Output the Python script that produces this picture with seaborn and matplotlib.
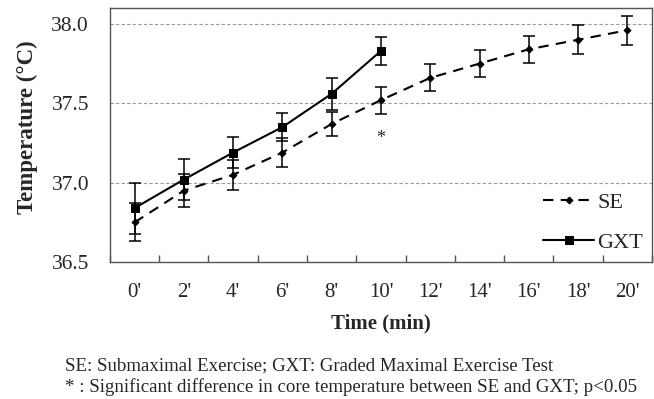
import matplotlib
matplotlib.use("Agg")
import matplotlib.pyplot as plt
import seaborn as sns
import pandas as pd
import numpy as np

time_labels = ["0'", "2'", "4'", "6'", "8'", "10'", "12'", "14'", "16'", "18'", "20'"]
se_mean = [36.75, 36.95, 37.05, 37.19, 37.37, 37.52, 37.66, 37.75, 37.84, 37.90, 37.96]
se_err = [0.12, 0.105, 0.095, 0.09, 0.075, 0.085, 0.085, 0.085, 0.085, 0.09, 0.09]
gxt_mean = [36.84, 37.02, 37.19, 37.35, 37.56, 37.83]
gxt_err = [0.16, 0.13, 0.095, 0.09, 0.10, 0.09]

sns.set_theme(style="white")
plt.rcParams['font.family'] = ['Liberation Serif', 'DejaVu Serif']

fig = plt.figure(figsize=(6.54, 3.99), dpi=100)
ax = fig.add_axes([0.168, 0.343, 0.829, 0.637])

se_df = pd.DataFrame({"x": np.arange(len(se_mean)), "y": se_mean})
gxt_df = pd.DataFrame({"x": np.arange(len(gxt_mean)), "y": gxt_mean})

ax.errorbar(se_df["x"], se_df["y"], yerr=se_err, fmt="none", ecolor="black",
            elinewidth=1.1, capsize=4, capthick=1.1, zorder=3)
ax.errorbar(gxt_df["x"], gxt_df["y"], yerr=gxt_err, fmt="none", ecolor="black",
            elinewidth=1.1, capsize=4, capthick=1.1, zorder=3)

sns.lineplot(data=se_df, x="x", y="y", ax=ax, color="black", linestyle=(0, (5, 3.5)),
             linewidth=1.5, marker="D", markersize=3.5, markeredgecolor="black", label="SE", zorder=4)
sns.lineplot(data=gxt_df, x="x", y="y", ax=ax, color="black", linestyle="-",
             linewidth=1.5, marker="s", markersize=6, markeredgecolor="black", label="GXT", zorder=4)

ax.text(5, 37.28, "*", ha="center", va="center", fontsize=13)

ax.set_xlim(-0.5, 10.5)
ax.set_ylim(36.5, 38.1)
ax.set_yticks([36.5, 37.0, 37.5, 38.0])
ax.set_yticklabels(["36.5", "37.0", "37.5", "38.0"], fontsize=15.5)
ax.set_xticks(np.arange(len(time_labels)))
ax.set_xticklabels(time_labels, fontsize=15)
ax.set_xticks(np.arange(-0.5, 10.6, 1.0), minor=True)
ax.tick_params(axis="x", which="major", length=0, pad=15)
ax.tick_params(axis="x", which="minor", direction="in", length=5, color="#555555", bottom=True)
ax.tick_params(axis="y", which="major", length=0, pad=15)

for v in [37.0, 37.5, 38.0]:
    ax.axhline(v, color="#999999", linestyle=(0, (3, 2)), linewidth=0.8, zorder=1)

for s in ax.spines.values():
    s.set_color("#555555")
    s.set_linewidth(1.0)

ax.set_xlabel("Time (min)", fontsize=15, fontweight="bold", labelpad=8)
ax.set_ylabel("Temperature (\u00b0C)", fontsize=16.5, fontweight="bold")
ax.yaxis.set_label_coords(-0.132, 0.53)

leg = ax.legend(loc="lower right", frameon=False, fontsize=16, handlelength=2.3,
                labelspacing=0.89, handletextpad=0.15, borderaxespad=0.0)

fig.text(0.1, 1 - 370 / 399, "SE: Submaximal Exercise; GXT: Graded Maximal Exercise Test",
         fontsize=13.6, va="baseline")
fig.text(0.1, 1 - 392 / 399, "* : Significant difference in core temperature between SE and GXT; p<0.05",
         fontsize=13.6, va="baseline")

fig.savefig("out.png", dpi=100)
